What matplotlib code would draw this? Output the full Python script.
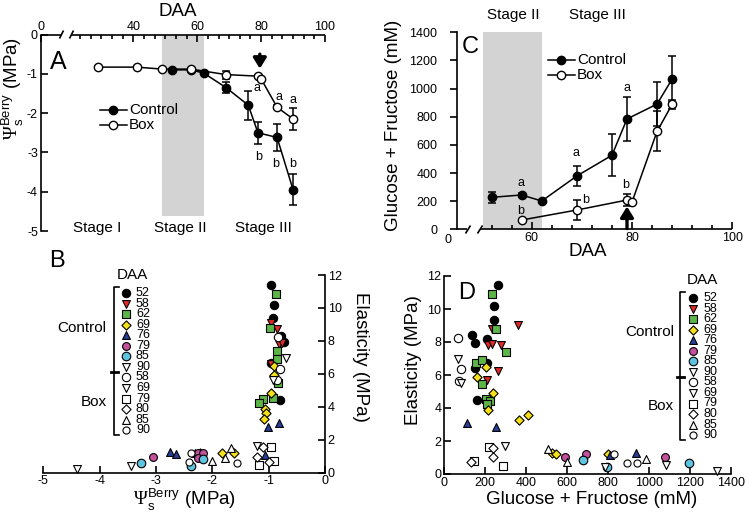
import matplotlib
matplotlib.use('Agg')
import matplotlib.pyplot as plt
from matplotlib.ticker import FixedLocator

plt.rcParams['font.family'] = ['Liberation Sans', 'DejaVu Sans']
plt.rcParams['axes.unicode_minus'] = False
plt.rcParams['mathtext.fontset'] = 'custom'
plt.rcParams['mathtext.rm'] = 'Liberation Sans'
plt.rcParams['mathtext.sf'] = 'Liberation Serif'

# ---------------- data: panel A (berry osmotic potential vs DAA) -------------
a_ctrl_daa = [52, 58, 62, 69, 76, 79, 85, 90]
a_ctrl_psi = [-0.90, -0.90, -0.98, -1.35, -1.80, -2.50, -2.62, -3.95]
a_ctrl_err = [0.02, 0.02, 0.02, 0.15, 0.37, 0.28, 0.35, 0.39]
a_box_daa = [29, 41, 49, 58, 69, 79, 80, 85, 90]
a_box_psi = [-0.83, -0.83, -0.88, -0.88, -1.02, -1.06, -1.13, -1.85, -2.15]
a_box_err = [0.02, 0.03, 0.02, 0.03, 0.10, 0.04, 0.04, 0.05, 0.28]

# ---------------- data: panel C (glucose + fructose vs DAA) ------------------
c_ctrl_daa = [52, 58, 62, 69, 76, 79, 85, 88]
c_ctrl_sug = [227, 244, 201, 379, 526, 784, 890, 1068]
c_ctrl_err = [39, 15, 10, 72, 150, 156, 157, 162]
c_box_daa = [58, 69, 79, 80, 85, 88]
c_box_sug = [66, 137, 208, 194, 696, 888]
c_box_err = [8, 71, 40, 15, 142, 32]

# ---------------- data: legend labels ----------------------------------------
legend_daa = ['52', '58', '62', '69', '76', '79', '85', '90',
              '58', '69', '79', '80', '85', '90']

# ---------------- data: panel B (elasticity vs psi_s) ------------------------
b_c52_x = [-0.95, -0.90, -0.93, -0.78, -0.72, -0.96, -0.80]
b_c52_y = [11.40, 10.18, 9.37, 8.30, 7.95, 6.68, 4.41]
b_c58_x = [-0.95, -0.85, -0.81, -0.77, -0.96]
b_c58_y = [9.07, 8.70, 7.81, 7.89, 6.60]
b_c62_x = [-0.87, -0.98, -0.86, -0.86, -0.83, -1.10, -1.17, -0.92]
b_c62_y = [10.83, 8.77, 7.41, 6.88, 5.43, 4.46, 4.21, 4.52]
b_c69_x = [-0.91, -0.90, -0.95, -1.06, -1.04, -1.09, -1.83, -1.61, -2.22]
b_c69_y = [6.48, 5.94, 4.86, 3.85, 3.60, 3.24, 1.21, 1.21, 1.20]
b_c76_x = [-1.01, -0.82, -2.76, -2.65, -2.30, -1.06]
b_c76_y = [2.76, 3.04, 1.24, 1.12, 1.20, 1.07]
b_c79_x = [-3.05, -2.25, -2.16, -2.25]
b_c79_y = [0.93, 1.18, 1.18, 0.90]
b_c85_x = [-3.27, -2.37, -2.16]
b_c85_y = [0.60, 0.40, 0.81]
b_c90_x = [-4.41, -3.45]
b_c90_y = [0.20, 0.40]
b_b58_x = [-0.83, -0.80, -0.85]
b_b58_y = [8.22, 6.28, 5.60]
b_b69_x = [-0.69, -0.93, -1.21]
b_b69_y = [6.95, 5.60, 1.62]
b_b79_x = [-0.95, -0.91, -1.18]
b_b79_y = [1.58, 0.71, 0.47]
b_b80_x = [-1.10, -1.20, -1.00]
b_b80_y = [1.58, 0.97, 0.67]
b_b85_x = [-2.01, -1.67, -1.77]
b_b85_y = [0.73, 1.48, 0.87]
b_b90_x = [-2.37, -2.41, -1.56]
b_b90_y = [1.18, 0.67, 0.61]

# ---------------- data: panel D (elasticity vs glucose + fructose) -----------
d_c52_x = [262, 245, 245, 135, 151, 208, 208, 151, 162]
d_c52_y = [11.45, 10.18, 9.33, 8.42, 7.96, 8.16, 6.71, 6.41, 4.48]
d_c58_x = [233, 360, 213, 232, 278, 265, 208]
d_c58_y = [8.77, 9.03, 7.82, 7.90, 7.82, 6.26, 5.72]
d_c62_x = [233, 254, 302, 156, 184, 184, 205, 224, 208]
d_c62_y = [10.90, 8.77, 7.41, 6.71, 6.91, 5.45, 4.52, 4.44, 4.24]
d_c69_x = [205, 159, 241, 216, 366, 408, 525, 546, 801]
d_c69_y = [6.47, 5.90, 4.89, 3.88, 3.27, 3.58, 1.29, 1.21, 1.21]
d_c76_x = [111, 254, 808, 937]
d_c76_y = [3.07, 2.83, 1.15, 1.29]
d_c79_x = [590, 693, 1078]
d_c79_y = [1.01, 1.21, 1.01]
d_c85_x = [680, 795, 1195]
d_c85_y = [0.85, 0.44, 0.65]
d_c90_x = [785, 1083, 1330]
d_c90_y = [0.44, 0.55, 0.20]
d_b58_x = [70, 83, 75]
d_b58_y = [8.22, 6.35, 5.62]
d_b69_x = [70, 81, 298]
d_b69_y = [7.00, 5.53, 1.70]
d_b79_x = [221, 148, 286]
d_b79_y = [1.62, 0.79, 0.48]
d_b80_x = [241, 238, 130]
d_b80_y = [1.56, 1.01, 0.75]
d_b85_x = [509, 598, 985]
d_b85_y = [1.50, 0.75, 0.89]
d_b90_x = [829, 894, 940]
d_b90_y = [1.21, 0.65, 0.65]

# ---------------- styles ------------------------------------------------------
styles = [  # marker, facecolor, size
    ('o', 'black', 36), ('v', '#e32a2a', 32), ('s', '#5cb547', 28),
    ('D', '#f4e01a', 22), ('^', '#273f96', 32), ('o', '#c2509b', 32),
    ('o', '#5ec3df', 38), ('v', 'white', 32),
    ('o', 'white', 36), ('v', 'white', 32), ('s', 'white', 28),
    ('D', 'white', 22), ('^', 'white', 32), ('o', 'white', 26),
]
b_sets = [(b_c52_x, b_c52_y), (b_c58_x, b_c58_y), (b_c62_x, b_c62_y),
          (b_c69_x, b_c69_y), (b_c76_x, b_c76_y), (b_c79_x, b_c79_y),
          (b_c85_x, b_c85_y), (b_c90_x, b_c90_y), (b_b58_x, b_b58_y),
          (b_b69_x, b_b69_y), (b_b79_x, b_b79_y), (b_b80_x, b_b80_y),
          (b_b85_x, b_b85_y), (b_b90_x, b_b90_y)]
d_sets = [(d_c52_x, d_c52_y), (d_c58_x, d_c58_y), (d_c62_x, d_c62_y),
          (d_c69_x, d_c69_y), (d_c76_x, d_c76_y), (d_c79_x, d_c79_y),
          (d_c85_x, d_c85_y), (d_c90_x, d_c90_y), (d_b58_x, d_b58_y),
          (d_b69_x, d_b69_y), (d_b79_x, d_b79_y), (d_b80_x, d_b80_y),
          (d_b85_x, d_b85_y), (d_b90_x, d_b90_y)]

W, H = 749, 519
fig = plt.figure(figsize=(W / 100, H / 100), dpi=100)


def rect(l, t, r, b):
    return [l / W, 1 - b / H, (r - l) / W, (b - t) / H]


TICK = 9
LAB = 13.5
GRAY = '#d3d3d3'
LW = 1.2
ARROW = dict(arrowstyle='-|>,head_width=0.26,head_length=0.42',
             lw=2.4, color='black', mutation_scale=15, shrinkA=0, shrinkB=0)


def style_ticks(ax):
    ax.tick_params(which='both', direction='in', labelsize=TICK, width=LW)
    ax.tick_params(which='major', length=5, pad=2)
    ax.tick_params(which='minor', length=3)
    for s in ax.spines.values():
        s.set_linewidth(LW)


# ================= Panel A ===================================================
axA = fig.add_axes(rect(40.7, 34.5, 325, 231))
axA.set_xlim(11, 100)
axA.set_ylim(-5, 0)
axA.fill_between([49, 62], -4.62, -0.03, color=GRAY, lw=0, zorder=0)
axA.errorbar(a_ctrl_daa, a_ctrl_psi, yerr=a_ctrl_err, fmt='-o', color='black',
             mfc='black', mec='black', ms=6, lw=1.1, elinewidth=1.1,
             capsize=3, capthick=1.1, zorder=3)
axA.errorbar(a_box_daa, a_box_psi, yerr=a_box_err, fmt='-o', color='black',
             mfc='white', mec='black', ms=6, lw=1.1, elinewidth=1.1,
             capsize=3, capthick=1.1, zorder=4)
for s in ['bottom', 'right', 'top']:
    axA.spines[s].set_visible(False)
axA.xaxis.tick_top()
axA.set_xticks([11, 40, 60, 80, 100])
axA.set_xticklabels(['0', '40', '60', '80', '100'])
axA.xaxis.set_minor_locator(FixedLocator(
    [20 + k * 20 / 6 for k in range(1, 24) if k % 6 != 0]))
axA.set_yticks([0, -1, -2, -3, -4, -5])
axA.set_yticklabels(['0', '-1', '-2', '-3', '-4', '-5'])
style_ticks(axA)
axA.tick_params(axis='x', which='both', top=True, bottom=False,
                labeltop=True, labelbottom=False, pad=1)
for x, y, t in [(78.6, -1.35, 'a'), (85.6, -1.59, 'a'), (90.0, -1.66, 'a'),
                (79.1, -3.11, 'b'), (84.5, -3.30, 'b'), (90.0, -3.30, 'b')]:
    axA.text(x, y, t, ha='center', va='center', fontsize=9)
for x, t in [(28.6, 'Stage I'), (54.6, 'Stage II'), (80.6, 'Stage III')]:
    axA.text(x, -4.93, t, ha='center', va='center', fontsize=11)
axA.annotate('', xy=(79.6, -0.87), xytext=(79.6, -0.50), arrowprops=ARROW)

# ================= Panel C ===================================================
axC = fig.add_axes(rect(457, 32.3, 732.3, 229.3))
axC.set_xlim(45.1, 100)
axC.set_ylim(0, 1400)
axC.fill_between([50.2, 62], 0, 1400, color=GRAY, lw=0, zorder=0, clip_on=False)
axC.errorbar(c_ctrl_daa, c_ctrl_sug, yerr=c_ctrl_err, fmt='-o', color='black',
             mfc='black', mec='black', ms=6, lw=1.1, elinewidth=1.1,
             capsize=3, capthick=1.1, zorder=3)
axC.errorbar(c_box_daa, c_box_sug, yerr=c_box_err, fmt='-o', color='black',
             mfc='white', mec='black', ms=6, lw=1.1, elinewidth=1.1,
             capsize=3, capthick=1.1, zorder=4)
for s in ['bottom', 'right', 'top']:
    axC.spines[s].set_visible(False)
axC.set_xticks([60, 80, 100])
axC.xaxis.set_minor_locator(FixedLocator([52, 56, 64, 68, 72, 76, 84, 88, 92, 96]))
axC.set_yticks(range(0, 1401, 200))
style_ticks(axC)
axC.tick_params(axis='x', which='both', pad=2)
axC.tick_params(axis='y', which='major', direction='out', length=5, pad=9)
for x, y, t in [(57.8, 327, 'a'), (57.8, 132, 'b'), (68.9, 540, 'a'),
                (70.7, 208, 'b'), (79.0, 1002, 'a'), (78.7, 315, 'b')]:
    axC.text(x, y, t, ha='center', va='center', fontsize=9)
axC.annotate('', xy=(79.0, 162), xytext=(79.0, 5), arrowprops=ARROW)

# ================= Panel B ===================================================
axB = fig.add_axes(rect(43.3, 275, 325, 472.7))
axB.set_xlim(-5, 0)
axB.set_ylim(0, 12)
for (xs, ys), (m, fc, sz) in zip(b_sets, styles):
    axB.scatter(xs, ys, marker=m, s=sz, facecolor=fc, edgecolor='black',
                linewidths=0.8, zorder=3, clip_on=False)
axB.spines['top'].set_visible(False)
axB.spines['left'].set_visible(False)
axB.yaxis.tick_right()
axB.set_xticks([-5, -4, -3, -2, -1, 0])
axB.set_xticklabels(['-5', '-4', '-3', '-2', '-1', '0'])
axB.set_yticks(range(0, 13, 2))
style_ticks(axB)

# ================= Panel D ===================================================
axD = fig.add_axes(rect(444, 276, 731, 474))
axD.set_xlim(0, 1400)
axD.set_ylim(0, 12)
for (xs, ys), (m, fc, sz) in zip(d_sets, styles):
    axD.scatter(xs, ys, marker=m, s=sz, facecolor=fc, edgecolor='black',
                linewidths=0.8, zorder=3, clip_on=False)
axD.spines['top'].set_visible(False)
axD.spines['right'].set_visible(False)
axD.set_xticks(range(0, 1401, 200))
axD.set_yticks(range(0, 13, 2))
style_ticks(axD)

# ================= overlay (pixel coordinates) ===============================
ov = fig.add_axes([0, 0, 1, 1], zorder=10)
ov.set_xlim(0, W)
ov.set_ylim(H, 0)
ov.axis('off')
ov.patch.set_alpha(0)

# broken axes
kw = dict(color='black', lw=LW, solid_capstyle='butt')
ov.plot([40.7, 61.0], [34.5, 34.5], **kw)
ov.plot([71.0, 325], [34.5, 34.5], **kw)
ov.plot([59.5, 63.5], [38.5, 30.5], **kw)
ov.plot([69.5, 73.5], [38.5, 30.5], **kw)
ov.plot([457, 466.5], [229.3, 229.3], **kw)
ov.plot([480, 732.3], [229.3, 229.3], **kw)
ov.plot([465.5, 470.5], [233.5, 225.5], **kw)
ov.plot([477.5, 482.5], [233.5, 225.5], **kw)
ov.text(448, 240, '0', ha='center', va='center', fontsize=TICK)

# panel letters
for x, y, t, fs in [(58, 62, 'A', 18), (57, 261, 'B', 17), (470, 47, 'C', 17),
                    (467, 293, 'D', 17)]:
    ov.text(x, y, t, ha='center', va='center', fontsize=fs)

psi_label = r'$\mathsf{\Psi}_{\mathrm{s}}^{\mathrm{Berry}}$ (MPa)'
ov.text(178, 11, 'DAA', ha='center', va='center', fontsize=LAB)
ov.text(13, 88, psi_label, ha='center', va='center', fontsize=LAB, rotation=90)
ov.text(513, 15, 'Stage II', ha='center', va='center', fontsize=11)
ov.text(597, 15, 'Stage III', ha='center', va='center', fontsize=11)
ov.text(393, 125, 'Glucose + Fructose (mM)', ha='center', va='center',
        fontsize=LAB, rotation=90)
ov.text(588, 251, 'DAA', ha='center', va='center', fontsize=LAB)
ov.text(185, 500, psi_label, ha='center', va='center', fontsize=LAB)
ov.text(360, 357, 'Elasticity (MPa)', ha='center', va='center', fontsize=LAB,
        rotation=270)
ov.text(592, 500, 'Glucose + Fructose (mM)', ha='center', va='center',
        fontsize=LAB)
ov.text(413, 360, 'Elasticity (MPa)', ha='center', va='center', fontsize=LAB,
        rotation=90)

# line legends for A and C
for (x0, x1, xm, xt, yc, yb) in [(100, 127, 113, 129, 110, 125),
                                  (547.7, 575, 560.7, 577, 60, 75)]:
    ov.plot([x0, x1], [yc, yc], color='black', lw=1.1)
    ov.plot([xm], [yc], 'o', ms=6, mfc='black', mec='black')
    ov.text(xt, yc, 'Control', ha='left', va='center', fontsize=11)
    ov.plot([x0, x1], [yb, yb], color='black', lw=1.1)
    ov.plot([xm], [yb], 'o', ms=6, mfc='white', mec='black')
    ov.text(xt, yb, 'Box', ha='left', va='center', fontsize=11)

# scatter legends for B and D
for (mx, tx, y0, hx, hy, bx, btop, bbot, bmid, cx, cy, bxy) in [
        (126, 136, 293.3, 132.3, 275, 114.3, 286.7, 435, 371.7, 106.7, 328.3, 401.7),
        (693.3, 703.3, 298.3, 702.7, 280, 680, 291.7, 440, 376.7, 674.3, 331.7, 406)]:
    ov.text(hx, hy, 'DAA', ha='center', va='center', fontsize=11)
    for i, ((m, fc, sz), lab) in enumerate(zip(styles, legend_daa)):
        y = y0 + i * 10.52
        ov.scatter([mx], [y], marker=m, s=sz, facecolor=fc, edgecolor='black',
                   linewidths=0.8)
        ov.text(tx, y, lab, ha='left', va='center', fontsize=TICK)
    ov.plot([bx + 5, bx, bx, bx + 5], [btop, btop, bbot, bbot], color='black',
            lw=LW)
    ov.plot([bx - 3, bx + 4], [bmid, bmid], color='black', lw=2)
    ov.text(cx, cy, 'Control', ha='right', va='center', fontsize=11)
    ov.text(cx, bxy, 'Box', ha='right', va='center', fontsize=11)

fig.savefig('out.png', dpi=100)
